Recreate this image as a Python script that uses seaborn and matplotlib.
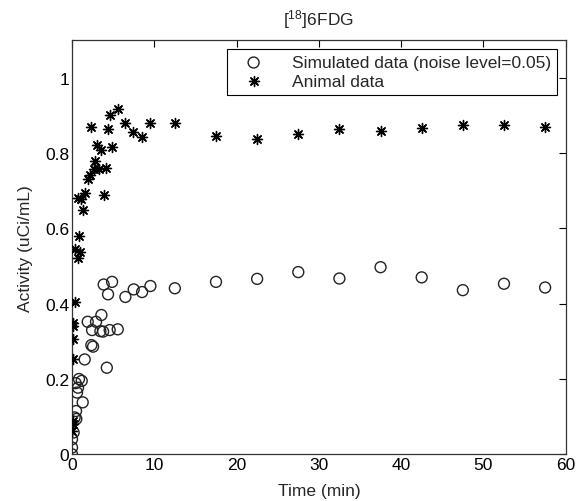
import matplotlib
matplotlib.use("Agg")
import matplotlib.pyplot as plt
import seaborn as sns
import pandas as pd

# Simulated data (noise level = 0.05)
sim_time = [0.0, 0.0, 0.0, 0.2, 0.32, 0.52, 0.49, 0.45, 0.61, 0.73, 0.85, 1.18, 1.3,
            1.54, 2.35, 2.56, 1.91, 2.92, 2.44, 3.45, 3.78, 3.57, 4.58, 5.56, 4.23,
            3.85, 4.87, 4.38, 6.49, 7.5, 8.52, 9.53,
            12.5, 17.5, 22.5, 27.5, 32.5, 37.5, 42.5, 47.5, 52.5, 57.5]
sim_activity = [0.0, 0.018, 0.040, 0.058, 0.098, 0.094, 0.115, 0.189, 0.164, 0.177, 0.200, 0.195, 0.138,
                0.252, 0.290, 0.286, 0.352, 0.352, 0.330, 0.327, 0.326, 0.370, 0.330, 0.332, 0.230,
                0.451, 0.458, 0.425, 0.418, 0.438, 0.431, 0.447,
                0.441, 0.458, 0.466, 0.484, 0.467, 0.497, 0.470, 0.436, 0.453, 0.443]

# Animal data
ani_time = [0.04, 0.08, 0.12, 0.08, 0.16, 0.16, 0.16, 0.32, 0.41, 0.69, 0.93, 0.89, 1.38,
            0.69, 1.13, 1.62, 1.95, 2.19, 2.64, 2.84, 3.28, 4.1, 3.04, 3.57, 3.85, 4.87,
            2.35, 4.34, 4.58, 5.56, 6.45, 7.42, 8.48, 9.49,
            12.5, 17.5, 22.5, 27.5, 32.5, 37.5, 42.5, 47.5, 52.5, 57.5]
ani_activity = [0.062, 0.080, 0.089, 0.252, 0.305, 0.340, 0.350, 0.404, 0.544, 0.522, 0.538, 0.581, 0.650,
                0.681, 0.678, 0.694, 0.732, 0.742, 0.758, 0.780, 0.758, 0.761, 0.822, 0.807, 0.688, 0.817,
                0.869, 0.864, 0.901, 0.917, 0.880, 0.856, 0.842, 0.880,
                0.881, 0.846, 0.837, 0.850, 0.864, 0.860, 0.868, 0.875, 0.875, 0.869]

x_ticks = [0, 10, 20, 30, 40, 50, 60]
y_ticks = [0, 0.2, 0.4, 0.6, 0.8, 1.0]
y_tick_labels = ["0", "0.2", "0.4", "0.6", "0.8", "1"]

sns.set_style("white")
plt.rcParams["font.family"] = ["Liberation Sans", "DejaVu Sans"]
plt.rcParams["mathtext.fontset"] = "custom"
plt.rcParams["mathtext.rm"] = "Liberation Sans"
plt.rcParams["mathtext.it"] = "Liberation Sans"

FS = 12.5

fig = plt.figure(figsize=(5.83, 5.02), dpi=100)
ax = fig.add_axes([0.1235, 0.093, 0.8468, 0.825])

sim_df = pd.DataFrame({"t": sim_time, "a": sim_activity})
ani_df = pd.DataFrame({"t": ani_time, "a": ani_activity})

sns.scatterplot(data=sim_df, x="t", y="a", ax=ax, marker="o", s=62,
                facecolors="none", edgecolor="#222222", linewidth=1.0,
                label="Simulated data (noise level=0.05)", zorder=3)
sns.scatterplot(data=ani_df, x="t", y="a", ax=ax, marker=(8, 2, 0), s=52,
                color="black", linewidth=1.0,
                label="Animal data", zorder=3)

ax.set_xlim(0, 60)
ax.set_ylim(0, 1.1)
ax.set_xticks(x_ticks)
ax.set_yticks(y_ticks)
ax.set_yticklabels(y_tick_labels)
ax.tick_params(direction="in", length=5, width=0.8, top=True, right=True,
               labelsize=FS, colors="black", pad=2)
for sp in ax.spines.values():
    sp.set_color("#333333")
    sp.set_linewidth(0.9)

ax.set_xlabel("Time (min)", fontsize=FS, labelpad=8)
ax.set_ylabel("Activity (uCi/mL)", fontsize=FS, labelpad=9)
ax.set_title(r"[$^{18}$]6FDG", fontsize=FS, pad=11)

leg = ax.legend(loc="upper right", fontsize=FS, frameon=True, fancybox=False,
                framealpha=1, edgecolor="black", borderpad=0.35,
                handletextpad=1.0, labelspacing=0.2, borderaxespad=0.5,
                handlelength=2.4)
leg.get_frame().set_linewidth(0.8)

fig.savefig("out.png", dpi=100)
